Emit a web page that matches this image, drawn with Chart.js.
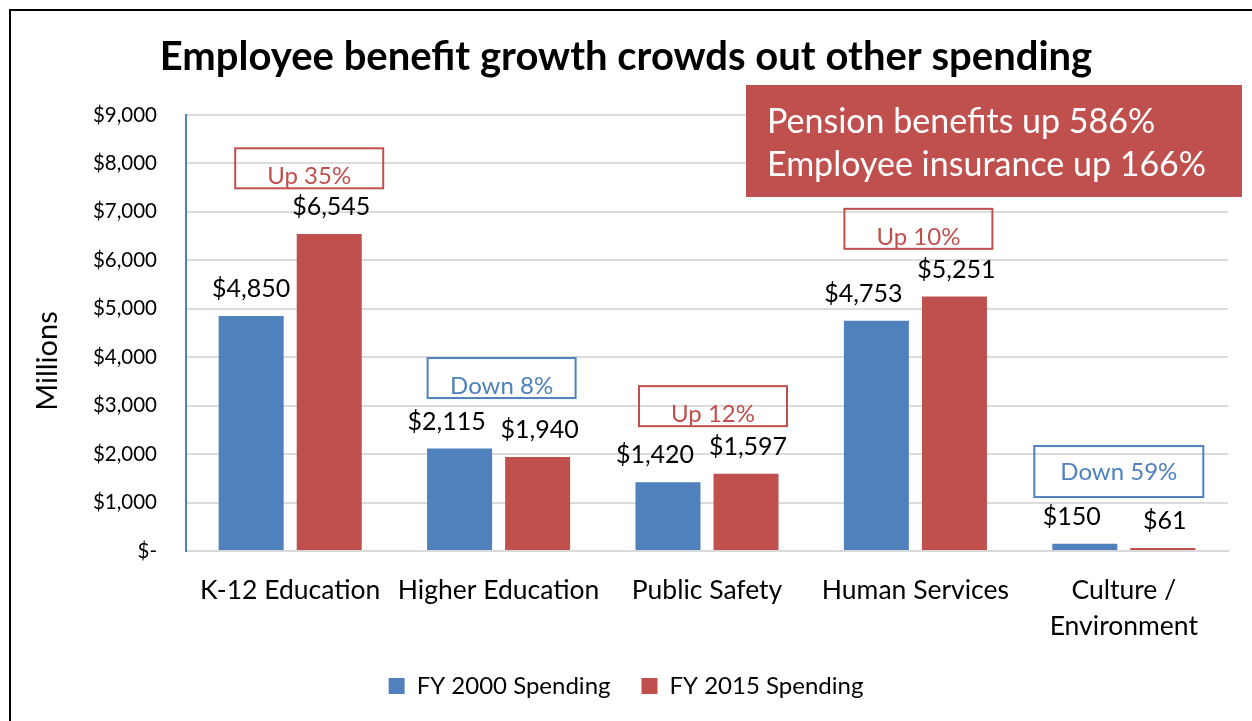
<!DOCTYPE html>
<html>
<head>
<meta charset="utf-8">
<script src="https://cdn.jsdelivr.net/npm/chart.js@4/dist/chart.umd.min.js"></script>
<style>
  html, body { margin: 0; padding: 0; background: #fff; }
  #wrap { width: 1252px; height: 721px; }
</style>
</head>
<body>
<div id="wrap"><canvas id="grafico"></canvas></div>
<script>
// categorias y series (millones de dolares)
const categorias = ['K-12 Education', 'Higher Education', 'Public Safety', 'Human Services', ['Culture /', 'Environment']];
const gasto2000 = [4850, 2115, 1420, 4753, 150];
const gasto2015 = [6545, 1940, 1597, 5251, 61];

// cajas de variacion sobre cada grupo
const cambios = ['Up 35%', 'Down 8%', 'Up 12%', 'Up 10%', 'Down 59%'];
const nivelCambio = [7900, 3570, 2990, 6650, 1640];

const notaLineas = ['Pension benefits up 586%', 'Employee insurance up 166%'];

const AZUL = '#4F81BD';
const ROJO = '#C0504D';
const FUENTE = 'Lato, "Open Sans", sans-serif';

const fmt = v => '$' + v.toLocaleString('en-US');

// etiquetas de valor encima de cada barra
const etiquetasBarras = {
  id: 'etiquetasBarras',
  afterDatasetsDraw(chart) {
    const ctx = chart.ctx;
    const azules = chart.getDatasetMeta(0).data;
    const rojas = chart.getDatasetMeta(1).data;
    ctx.save();
    ctx.font = '25px ' + FUENTE;
    ctx.fillStyle = '#000';
    ctx.textAlign = 'center';
    ctx.textBaseline = 'middle';
    azules.forEach((b, j) => {
      // si las dos etiquetas quedan a la misma altura se separan un poco
      const choca = Math.abs(b.y - rojas[j].y) < 40;
      ctx.fillText(fmt(gasto2000[j]), b.x - (choca ? 13 : 0), b.y - 27);
    });
    rojas.forEach((b, j) => {
      ctx.fillText(fmt(gasto2015[j]), b.x + 2, b.y - 27);
    });
    ctx.restore();
  }
};

// cajas "Up/Down", recuadro rojo, titulo del eje y marco
const anotaciones = {
  id: 'anotaciones',
  afterDraw(chart, args, opts) {
    const ctx = chart.ctx;
    const x = chart.scales.x, y = chart.scales.y;
    ctx.save();
    cambios.forEach((txt, i) => {
      const color = txt.startsWith('Up') ? ROJO : AZUL;
      const grande = i === cambios.length - 1;
      const w = grande ? 169 : 148, h = grande ? 51 : 40;
      const cx = x.getPixelForValue(i) + opts.desplazamiento[i];
      const cy = y.getPixelForValue(nivelCambio[i]);
      ctx.strokeStyle = color;
      ctx.lineWidth = 2;
      ctx.strokeRect(cx - w / 2, cy - h / 2, w, h);
      ctx.fillStyle = color;
      ctx.font = '24px ' + FUENTE;
      ctx.textAlign = 'center';
      ctx.textBaseline = 'middle';
      ctx.fillText(txt, cx, cy + (grande ? 1 : 8));
    });

    // recuadro de beneficios
    const bx = 746, by = 85, bw = chart.width - 10 - bx, bh = 112;
    ctx.fillStyle = ROJO;
    ctx.fillRect(bx, by, bw, bh);
    ctx.fillStyle = '#fff';
    ctx.font = '34px ' + FUENTE;
    ctx.textAlign = 'left';
    ctx.textBaseline = 'middle';
    notaLineas.forEach((l, k) => ctx.fillText(l, bx + 21, by + 37 + k * 43));

    // titulo del eje y, algo por debajo del centro
    ctx.save();
    ctx.translate(48, (chart.chartArea.top + chart.chartArea.bottom) / 2 + 28);
    ctx.rotate(-Math.PI / 2);
    ctx.fillStyle = '#000';
    ctx.font = '29px ' + FUENTE;
    ctx.textAlign = 'center';
    ctx.fillText('Millions', 0, 0);
    ctx.restore();

    // marco exterior
    ctx.strokeStyle = '#000';
    ctx.lineWidth = 2;
    ctx.beginPath();
    ctx.moveTo(10, chart.height + 5);
    ctx.lineTo(10, 10);
    ctx.lineTo(chart.width + 5, 10);
    ctx.stroke();
    ctx.restore();
  }
};

const ctxG = document.getElementById('grafico').getContext('2d');
const grafico = new Chart(ctxG, {
  type: 'bar',
  data: {
    labels: categorias,
    datasets: [{
      label: 'FY 2000 Spending',
      data: gasto2000,
      backgroundColor: AZUL,
      categoryPercentage: 0.749,
      barPercentage: 0.833
    }, {
      label: 'FY 2015 Spending',
      data: gasto2015,
      backgroundColor: ROJO,
      categoryPercentage: 0.749,
      barPercentage: 0.833
    }]
  },
  options: {
    responsive: true,
    maintainAspectRatio: false,
    animation: false,
    layout: { padding: { left: 24, right: 24, top: 0, bottom: 13 } },
    scales: {
      x: {
        grid: { display: false, drawTicks: false },
        border: { color: '#D9D9D9', width: 2 },
        ticks: {
          color: '#000',
          padding: 21,
          maxRotation: 0,
          autoSkip: false,
          font: { family: FUENTE, size: 26.5, lineHeight: 1.36 }
        },
        afterFit: s => { s.height = 92; }
      },
      y: {
        min: 0,
        max: 9000,
        grid: { color: '#DCDCDC', lineWidth: 2, drawTicks: false },
        border: { color: AZUL, width: 2 },
        ticks: {
          stepSize: 1000,
          color: '#000',
          padding: 29,
          font: { family: FUENTE, size: 20.5 },
          callback: v => v === 0 ? '$-' : fmt(v)
        },
        afterFit: s => { s.width = 162; }
      }
    },
    plugins: {
      title: {
        display: true,
        text: 'Employee benefit growth crowds out other spending',
        color: '#000',
        font: { family: FUENTE, size: 40, weight: 'bold' },
        padding: { top: 33, bottom: 34 }
      },
      legend: {
        position: 'bottom',
        labels: {
          color: '#000',
          boxWidth: 16,
          boxHeight: 16,
          padding: 31,
          font: { family: FUENTE, size: 24 }
        }
      },
      tooltip: { enabled: false },
      anotaciones: { desplazamiento: [19, 3, 6, 3, -5] }
    }
  },
  plugins: [etiquetasBarras, anotaciones]
});
</script>
</body>
</html>
